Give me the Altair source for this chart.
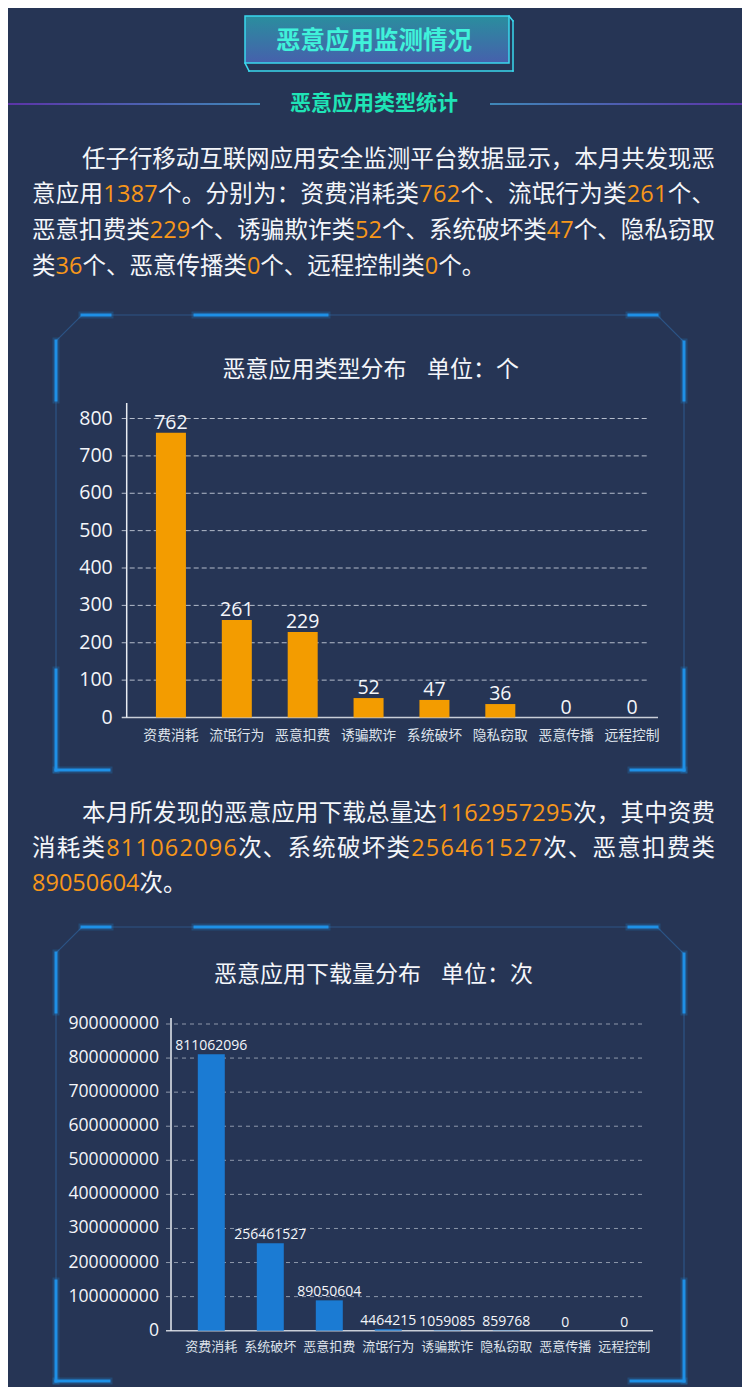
import altair as alt
import pandas as pd

# ---------------- data ----------------
type_cats = ["资费消耗", "流氓行为", "恶意扣费", "诱骗欺诈", "系统破坏", "隐私窃取", "恶意传播", "远程控制"]
type_counts = [762, 261, 229, 52, 47, 36, 0, 0]
type_ticks = [0, 100, 200, 300, 400, 500, 600, 700, 800]

dl_cats = ["资费消耗", "系统破坏", "恶意扣费", "流氓行为", "诱骗欺诈", "隐私窃取", "恶意传播", "远程控制"]
dl_counts = [811062096, 256461527, 89050604, 4464215, 1059085, 859768, 0, 0]
dl_ticks = [0, 100000000, 200000000, 300000000, 400000000,
            500000000, 600000000, 700000000, 800000000, 900000000]

total_apps = 1387
total_downloads = 1162957295

# ---------------- style / layout ----------------
M = 8
W, H = 750 - 2 * M, 1395 - 2 * M


def P(v):
    return v - M


FONT = "'Open Sans', 'Noto Sans CJK SC', sans-serif"
BG = "#263555"
WHITE = "#f4f6fa"
ORANGE = "#f7971a"
BAR1 = "#f39c00"
BAR2 = "#1b7bd3"
BRIGHT = "#1e90e6"
DIM = "#2c5486"

one = pd.DataFrame({"a": [0]})
layers = []

# ---------- header box ----------
grad_header = alt.Gradient(
    gradient="linear",
    stops=[alt.GradientStop(color="#2a8e9e", offset=0),
           alt.GradientStop(color="#4660ac", offset=1)],
    x1=0, x2=0, y1=0, y2=1)
layers.append(
    alt.Chart(one).mark_rect(fill=grad_header, stroke="#3ad8ee", strokeWidth=1.5).encode(
        x=alt.value(P(245)), x2=alt.value(P(509)), y=alt.value(P(16)), y2=alt.value(P(63))))

# subheader side lines (gradients)
grad_left = alt.Gradient(gradient="linear",
                         stops=[alt.GradientStop(color="#5c34a8", offset=0),
                                alt.GradientStop(color="#3f88b8", offset=1)],
                         x1=0, x2=1, y1=0, y2=0)
grad_right = alt.Gradient(gradient="linear",
                          stops=[alt.GradientStop(color="#3f88b8", offset=0),
                                 alt.GradientStop(color="#5c34a8", offset=1)],
                          x1=0, x2=1, y1=0, y2=0)
layers.append(alt.Chart(one).mark_rect(fill=grad_left).encode(
    x=alt.value(0), x2=alt.value(P(260)), y=alt.value(P(103)), y2=alt.value(P(105))))
layers.append(alt.Chart(one).mark_rect(fill=grad_right).encode(
    x=alt.value(P(490)), x2=alt.value(W), y=alt.value(P(103)), y2=alt.value(P(105))))

# ---------- line decorations ----------
seg_rows = []


def seg(x, y, x2, y2, c, w, o=1.0):
    seg_rows.append(dict(x=P(x), y=P(y), x2=P(x2), y2=P(y2), c=c, w=w, o=o))


# header extrusion
for (a, b, c_, d) in [(509, 16, 513, 21), (513, 21, 513, 71), (513, 71, 249, 71), (249, 71, 245, 63)]:
    seg(a, b, c_, d, "#3ad8ee", 1.5)


def frame(T, B):
    # dim outline
    for (a, b, c_, d) in [(82, T, 657, T), (82, T, 56, T + 26), (657, T, 684, T + 27),
                          (56, T + 26, 56, B), (684, T + 27, 684, B)]:
        seg(a, b, c_, d, DIM, 1.2)
    bright = [(82, T, 110, T), (195, T, 327, T), (629, T, 657, T),
              (56, T + 26, 56, T + 85), (684, T + 27, 684, T + 85),
              (56, B - 100, 56, B), (56, B, 109, B),
              (684, B - 100, 684, B), (631, B, 684, B)]
    for (a, b, c_, d) in bright:
        seg(a, b, c_, d, BRIGHT, 7, 0.22)
    for (a, b, c_, d) in bright:
        seg(a, b, c_, d, BRIGHT, 3, 1.0)


frame(315, 770)
frame(927, 1381)

seg_df = pd.DataFrame(seg_rows)
layers.append(
    alt.Chart(seg_df).mark_rule(strokeCap="square").encode(
        x=alt.X("x:Q", scale=None, axis=None), x2="x2:Q",
        y=alt.Y("y:Q", scale=None, axis=None), y2="y2:Q",
        color=alt.Color("c:N", scale=None),
        strokeWidth=alt.StrokeWidth("w:Q", scale=None),
        opacity=alt.Opacity("o:Q", scale=None)))

# ---------- header texts ----------
head_df = pd.DataFrame([
    dict(x=P(374), y=P(42), t="恶意应用监测情况", c="#40f2da", s=24.5),
    dict(x=P(374), y=P(104), t="恶意应用类型统计", c="#1fe4b6", s=21),
])
layers.append(
    alt.Chart(head_df).mark_text(align="center", baseline="middle", font=FONT, fontWeight="bold").encode(
        x=alt.X("x:Q", scale=None, axis=None), y=alt.Y("y:Q", scale=None, axis=None),
        text="t:N", color=alt.Color("c:N", scale=None), size=alt.Size("s:Q", scale=None)))

# ---------- paragraphs (per-character layout, justified) ----------
PFS = 23.5
RIGHT = 715


def layout_line(segs, x0, y, justify):
    chars = [(ch, col) for text, col in segs for ch in text]
    widths = [PFS * 0.572 if ch.isdigit() else PFS for ch, _ in chars]
    extra = (RIGHT - x0 - sum(widths)) / (len(chars) - 1) if justify else 0.0
    rows = []
    x = x0
    for (ch, col), w in zip(chars, widths):
        rows.append(dict(x=P(x), y=P(y), t=ch, c=col))
        x += w + extra
    return rows


Wt, Or = WHITE, ORANGE
para_rows = []
para_rows += layout_line([("任子行移动互联网应用安全监测平台数据显示，本月共发现恶", Wt)], 82, 160, True)
para_rows += layout_line([("意应用", Wt), (str(total_apps), Or), ("个。分别为：资费消耗类", Wt),
                          (str(type_counts[0]), Or), ("个、流氓行为类", Wt),
                          (str(type_counts[1]), Or), ("个、", Wt)], 32, 195, True)
para_rows += layout_line([("恶意扣费类", Wt), (str(type_counts[2]), Or), ("个、诱骗欺诈类", Wt),
                          (str(type_counts[3]), Or), ("个、系统破坏类", Wt),
                          (str(type_counts[4]), Or), ("个、隐私窃取", Wt)], 32, 231, True)
para_rows += layout_line([("类", Wt), (str(type_counts[5]), Or), ("个、恶意传播类", Wt),
                          (str(type_counts[6]), Or), ("个、远程控制类", Wt),
                          (str(type_counts[7]), Or), ("个。", Wt)], 32, 267, False)

para_rows += layout_line([("本月所发现的恶意应用下载总量达", Wt), (str(total_downloads), Or),
                          ("次，其中资费", Wt)], 82, 814, True)
para_rows += layout_line([("消耗类", Wt), (str(dl_counts[0]), Or), ("次、系统破坏类", Wt),
                          (str(dl_counts[1]), Or), ("次、恶意扣费类", Wt)], 32, 849, True)
para_rows += layout_line([(str(dl_counts[2]), Or), ("次。", Wt)], 32, 884, False)

para_df = pd.DataFrame(para_rows)
layers.append(
    alt.Chart(para_df).mark_text(align="left", baseline="middle", font=FONT, fontSize=PFS).encode(
        x=alt.X("x:Q", scale=None, axis=None), y=alt.Y("y:Q", scale=None, axis=None),
        text="t:N", color=alt.Color("c:N", scale=None)))

# chart titles
title_df = pd.DataFrame([
    dict(x=P(222.5), y=P(370), t="恶意应用类型分布"),
    dict(x=P(427), y=P(370), t="单位：个"),
    dict(x=P(214), y=P(975), t="恶意应用下载量分布"),
    dict(x=P(441), y=P(975), t="单位：次"),
])
layers.append(
    alt.Chart(title_df).mark_text(align="left", baseline="middle", font=FONT, fontSize=23, color=WHITE).encode(
        x=alt.X("x:Q", scale=None, axis=None), y=alt.Y("y:Q", scale=None, axis=None), text="t:N"))


# ---------- bar chart builder ----------
def bar_chart(cats, vals, ticks, xr, pin, yr, ymax, axis_x, label_x, grid_x2, base_x2,
              axis_top, cat_y, bar_color, tick_fs, val_fs, cat_fs, grid_color, dash):
    xs = alt.Scale(domain=cats, range=[P(xr[0]), P(xr[1])], paddingInner=pin, paddingOuter=pin / 2)
    ys = alt.Scale(domain=[0, ymax], range=[P(yr[0]), P(yr[1])], nice=False, zero=True)
    df = pd.DataFrame({"cat": cats, "val": vals})
    tdf = pd.DataFrame({"t": ticks})
    out = []
    # grid
    out.append(alt.Chart(tdf[tdf.t > 0]).mark_rule(color=grid_color, strokeDash=dash, strokeWidth=1).encode(
        y=alt.Y("t:Q", scale=ys, axis=None), x=alt.value(P(axis_x - 5)), x2=alt.value(P(grid_x2))))
    # baseline
    out.append(alt.Chart(tdf[tdf.t == 0]).mark_rule(color="#c9ced8", strokeWidth=1.5).encode(
        y=alt.Y("t:Q", scale=ys, axis=None), x=alt.value(P(axis_x - 5)), x2=alt.value(P(base_x2))))
    # y axis line
    out.append(alt.Chart(one).mark_rule(color="#e8ecf2", strokeWidth=1.5).encode(
        x=alt.value(P(axis_x)), y=alt.value(P(axis_top)), y2=alt.value(P(yr[0]))))
    # tick labels
    out.append(alt.Chart(tdf).mark_text(align="right", baseline="middle", font=FONT,
                                        fontSize=tick_fs, color=WHITE).encode(
        y=alt.Y("t:Q", scale=ys, axis=None), x=alt.value(P(label_x)),
        text=alt.Text("t:Q", format="d")))
    # bars
    out.append(alt.Chart(df).mark_bar(color=bar_color).encode(
        x=alt.X("cat:N", scale=xs, axis=None), y=alt.Y("val:Q", scale=ys, axis=None)))
    # value labels
    out.append(alt.Chart(df).mark_text(align="center", baseline="alphabetic", dy=-4, font=FONT,
                                       fontSize=val_fs, color=WHITE).encode(
        x=alt.X("cat:N", scale=xs, axis=None), y=alt.Y("val:Q", scale=ys, axis=None),
        text=alt.Text("val:Q", format="d")))
    # category labels
    out.append(alt.Chart(df).mark_text(align="center", baseline="middle", font=FONT,
                                       fontSize=cat_fs, color="#dde2ea").encode(
        x=alt.X("cat:N", scale=xs, axis=None), y=alt.value(P(cat_y)), text="cat:N"))
    return out


layers += bar_chart(type_cats, type_counts, type_ticks, (138, 665), 0.5445, (717.5, 418.5), 800,
                    126.7, 112.7, 647, 658, 403, 735.7, BAR1, 19.5, 19.5, 13.8, "#b4bccb", [5, 3])
layers += bar_chart(dl_cats, dl_counts, dl_ticks, (181.8, 653.8), 0.5424, (1330.7, 1024), 900000000,
                    171, 159, 643, 653, 1018, 1346.7, BAR2, 17.6, 14, 13, "#8e98ab", [4, 4])

chart = alt.layer(*layers).resolve_scale(
    x="independent", y="independent"
).properties(
    width=W, height=H, padding=0,
    autosize=alt.AutoSizeParams(type="none"),
).configure(background=BG).configure_view(stroke=None)

chart.save("out.html", embed_options={"renderer": "svg", "actions": False})
